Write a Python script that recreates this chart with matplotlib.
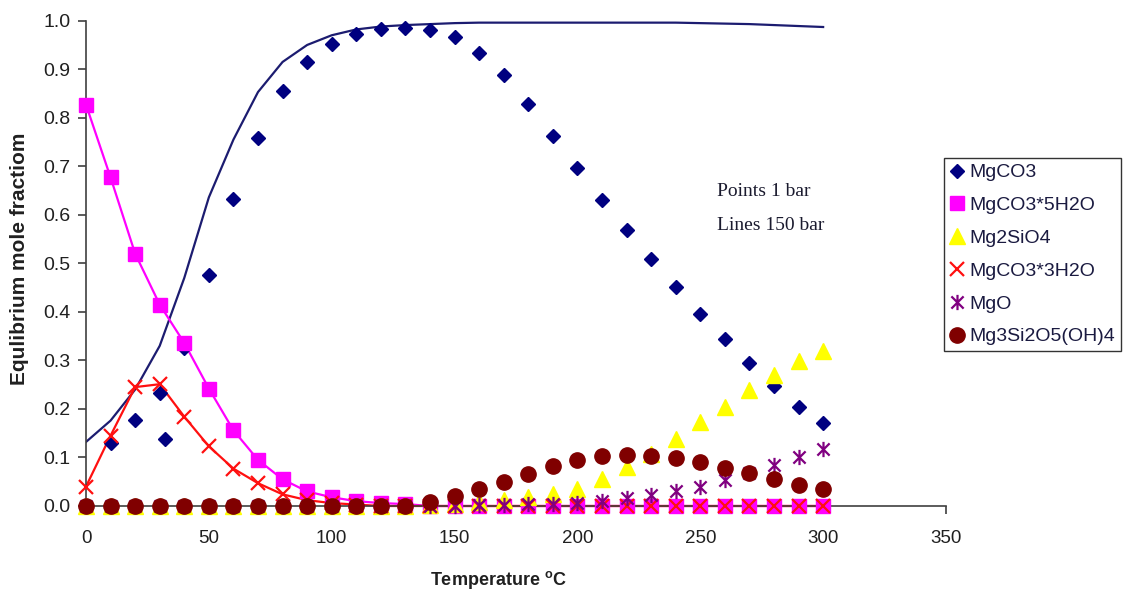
import matplotlib
matplotlib.use("Agg")
import matplotlib.pyplot as plt
from matplotlib.path import Path

plt.rcParams['font.family'] = ['Liberation Sans', 'DejaVu Sans']
plt.rcParams['mathtext.fontset'] = 'custom'
plt.rcParams['mathtext.rm'] = 'Liberation Sans'
plt.rcParams['mathtext.bf'] = 'Liberation Sans:bold'

# ---------------- data ----------------
temps = [0, 10, 20, 30, 40, 50, 60, 70, 80, 90, 100, 110, 120, 130, 140, 150,
         160, 170, 180, 190, 200, 210, 220, 230, 240, 250, 260, 270, 280, 290, 300]

# 1 bar points
mgco3_x = [10, 20, 30, 32, 40, 50, 60, 70, 80, 90, 100, 110, 120, 130, 140, 150,
           160, 170, 180, 190, 200, 210, 220, 230, 240, 250, 260, 270, 280, 290, 300]
mgco3_pts = [0.130, 0.178, 0.233, 0.138, 0.326, 0.477, 0.633, 0.759, 0.855, 0.915, 0.952,
             0.972, 0.982, 0.984, 0.980, 0.966, 0.934, 0.888, 0.828, 0.762, 0.697,
             0.630, 0.568, 0.508, 0.452, 0.396, 0.344, 0.294, 0.247, 0.205, 0.170]
mgco3_5h2o = [0.827, 0.677, 0.520, 0.415, 0.336, 0.242, 0.156, 0.095, 0.055, 0.030, 0.018,
              0.010, 0.006, 0.004, 0.0, 0.0, 0.0, 0.0, 0.0, 0.0, 0.0, 0.0, 0.0, 0.0,
              0.0, 0.0, 0.0, 0.0, 0.0, 0.0, 0.0]
mg2sio4 = [0.0, 0.0, 0.0, 0.0, 0.0, 0.0, 0.0, 0.0, 0.0, 0.0, 0.0, 0.0, 0.0, 0.0, 0.003, 0.005,
           0.008, 0.012, 0.018, 0.025, 0.036, 0.055, 0.080, 0.107, 0.138, 0.173, 0.205,
           0.240, 0.270, 0.298, 0.320]
mgco3_3h2o = [0.040, 0.145, 0.245, 0.251, 0.184, 0.123, 0.077, 0.047, 0.024, 0.012, 0.006,
              0.003, 0.0, 0.0, 0.0, 0.0, 0.0, 0.0, 0.0, 0.0, 0.0, 0.0, 0.0, 0.0, 0.0, 0.0,
              0.0, 0.0, 0.0, 0.0, 0.0]
mgo = [0.0, 0.0, 0.0, 0.0, 0.0, 0.0, 0.0, 0.0, 0.0, 0.0, 0.0, 0.0, 0.0, 0.0, 0.0, 0.001,
       0.002, 0.003, 0.004, 0.005, 0.007, 0.011, 0.016, 0.022, 0.030, 0.040, 0.054,
       0.068, 0.085, 0.101, 0.118]
serpentine = [0.0, 0.0, 0.0, 0.0, 0.0, 0.0, 0.0, 0.0, 0.0, 0.0, 0.0, 0.0, 0.0, 0.0, 0.008, 0.020,
              0.035, 0.050, 0.066, 0.082, 0.094, 0.103, 0.106, 0.104, 0.099, 0.090, 0.079,
              0.067, 0.055, 0.044, 0.034]

# 150 bar lines
mgco3_line = [0.132, 0.176, 0.240, 0.330, 0.470, 0.636, 0.755, 0.853, 0.915, 0.950, 0.970,
              0.982, 0.988, 0.991, 0.993, 0.995, 0.996, 0.996, 0.996, 0.996, 0.996, 0.996,
              0.996, 0.996, 0.996, 0.995, 0.994, 0.993, 0.991, 0.989, 0.987]
mgco3_5h2o_line = mgco3_5h2o
mgco3_3h2o_line = mgco3_3h2o

labels = ['MgCO3', 'MgCO3*5H2O', 'Mg2SiO4', 'MgCO3*3H2O', 'MgO', 'Mg3Si2O5(OH)4']
x_ticks = [0, 50, 100, 150, 200, 250, 300, 350]
y_ticks = [0.0, 0.1, 0.2, 0.3, 0.4, 0.5, 0.6, 0.7, 0.8, 0.9, 1.0]

# ---------------- figure ----------------
fig = plt.figure(figsize=(11.3, 5.92), dpi=100)
ax = fig.add_axes([86 / 1130, 1 - 506 / 592, 860 / 1130, 485.3 / 592])

navy = '#000080'
magenta = '#FF00FF'
yellow = '#FFFF00'
red = '#FF1010'
purple = '#800080'
darkred = '#800000'

# lines (150 bar)
ax.plot(temps, mgco3_line, '-', color='#1c1c70', lw=1.6, zorder=2)
ax.plot(temps, mgco3_5h2o_line, '-', color=magenta, lw=1.6, zorder=2, clip_on=False)
ax.plot(temps, mgco3_3h2o_line, '-', color=red, lw=1.6, zorder=2, clip_on=False)

asterisk = Path([(0, -1), (0, 1), (-0.8, -0.8), (0.8, 0.8), (-0.8, 0.8), (0.8, -0.8)],
                [Path.MOVETO, Path.LINETO] * 3)

h1, = ax.plot(mgco3_x, mgco3_pts, linestyle='none', marker='D', ms=7, color=navy,
              mec=navy, zorder=3, clip_on=False, label=labels[0])
h2, = ax.plot(temps, mgco3_5h2o, linestyle='none', marker='s', ms=10.5, color=magenta,
              mec=magenta, zorder=4, clip_on=False, label=labels[1])
h3, = ax.plot(temps, mg2sio4, linestyle='none', marker='^', ms=11, color=yellow,
              mec=yellow, zorder=5, clip_on=False, label=labels[2])
h4, = ax.plot(temps, mgco3_3h2o, linestyle='none', marker='x', ms=10, mew=1.6, color=red,
              zorder=6, clip_on=False, label=labels[3])
h5, = ax.plot(temps, mgo, linestyle='none', marker=asterisk, ms=11, mew=1.6, color=purple,
              mfc='none', zorder=7, clip_on=False, label=labels[4])
h6, = ax.plot(temps, serpentine, linestyle='none', marker='o', ms=11, color=darkred,
              mec=darkred, zorder=8, clip_on=False, label=labels[5])

ax.set_xlim(0, 350)
ax.set_ylim(0, 1.0)
ax.set_xticks(x_ticks)
ax.set_yticks(y_ticks)
ax.set_yticklabels([f'{v:.1f}' for v in y_ticks])
for s in ['top', 'right']:
    ax.spines[s].set_visible(False)
for s in ['left', 'bottom']:
    ax.spines[s].set_color('#404040')
    ax.spines[s].set_linewidth(1.2)
ax.tick_params(axis='both', direction='out', length=6, width=1.2, color='#404040',
               labelcolor='#202020')
ax.tick_params(axis='x', labelsize=13.5, pad=11)
ax.tick_params(axis='y', labelsize=14, pad=5)

ax.set_xlabel(r'Temperature $^{\mathbf{o}}$C', fontsize=13, fontweight='bold', color='#202020')
ax.xaxis.set_label_coords(0.48, -0.13)
ax.set_ylabel('Equlibrium mole fractiom', fontsize=15, fontweight='bold', color='#202020')
ax.yaxis.set_label_coords(-0.066, 0.509)

ax.text(717 / 1130, 1 - 192 / 592, 'Points 1 bar', transform=fig.transFigure,
        family=['Liberation Serif'], fontsize=14, color='#1a1a2e', va='center', ha='left')
ax.text(717 / 1130, 1 - 225 / 592, 'Lines 150 bar', transform=fig.transFigure,
        family=['Liberation Serif'], fontsize=14, color='#1a1a2e', va='center', ha='left')

leg = fig.legend(handles=[h1, h2, h3, h4, h5, h6], loc='upper left',
                 bbox_to_anchor=(944 / 1130, 1 - 158 / 592), bbox_transform=fig.transFigure,
                 fontsize=14, frameon=True, fancybox=False, edgecolor='black',
                 handlelength=0.7, handletextpad=0.3, labelspacing=0.78, borderpad=0.3,
                 borderaxespad=0)
leg.get_frame().set_linewidth(1.0)
for t in leg.get_texts():
    t.set_color('#1a1a40')

fig.savefig('out.png', dpi=100)
